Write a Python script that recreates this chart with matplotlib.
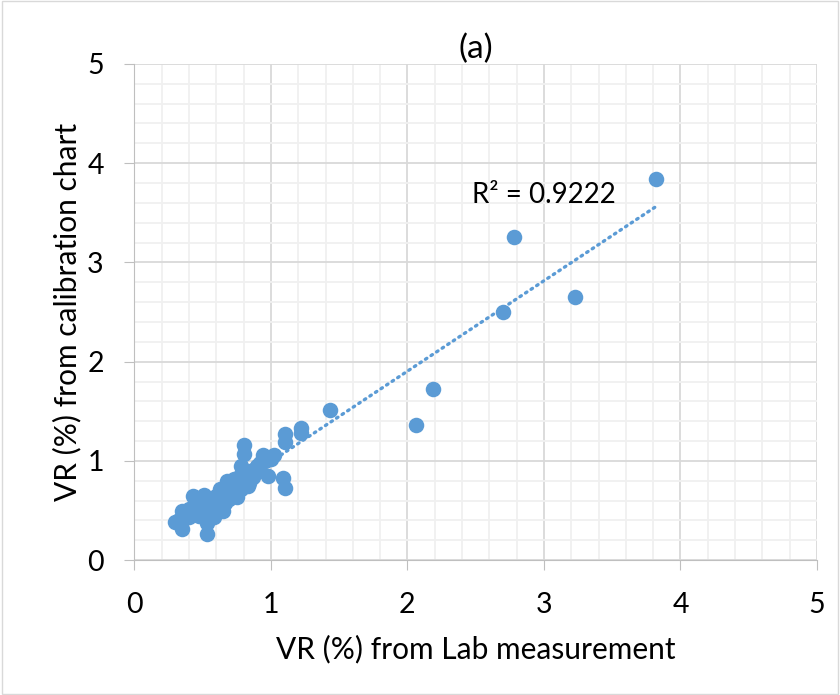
import matplotlib.pyplot as plt
import numpy as np
from matplotlib.ticker import MultipleLocator
from matplotlib.patches import Rectangle

# VR (%) from lab measurement vs VR (%) from calibration chart
lab_vr = [3.82, 2.78, 3.23, 2.70, 2.19, 2.06, 1.43, 1.22, 1.22, 1.10, 1.10,
          1.09, 1.10, 1.02, 1.00, 0.98, 0.94, 0.96, 0.80, 0.80, 0.78, 0.87,
          0.83, 0.75, 0.70, 0.68, 0.65, 0.61, 0.58, 0.53, 0.53, 0.51, 0.46,
          0.43, 0.40, 0.35, 0.30, 0.35, 0.33, 0.38, 0.42, 0.45, 0.48, 0.50,
          0.55, 0.57, 0.60, 0.62, 0.64, 0.66, 0.68, 0.70, 0.72, 0.74, 0.76,
          0.78, 0.82, 0.85, 0.88, 0.90, 0.92, 0.55, 0.60, 0.66, 0.72, 0.77,
          0.40, 0.47, 0.52, 0.63, 0.69, 0.73, 0.84, 0.91]
cal_vr = [3.84, 3.26, 2.65, 2.50, 1.72, 1.36, 1.51, 1.33, 1.28, 1.27, 1.19,
          0.83, 0.73, 1.06, 1.02, 0.85, 1.06, 1.00, 1.16, 1.07, 0.95, 0.84,
          0.75, 0.64, 0.75, 0.80, 0.50, 0.60, 0.44, 0.26, 0.37, 0.66, 0.54,
          0.65, 0.44, 0.50, 0.38, 0.31, 0.40, 0.47, 0.52, 0.48, 0.58, 0.55,
          0.52, 0.60, 0.65, 0.62, 0.70, 0.66, 0.72, 0.68, 0.78, 0.74, 0.80,
          0.72, 0.86, 0.90, 0.92, 0.95, 0.98, 0.62, 0.55, 0.58, 0.70, 0.85,
          0.52, 0.45, 0.58, 0.72, 0.62, 0.82, 0.78, 0.90]
r2_label = "R² = 0.9222"

blue = "#5B9BD5"
plt.rcParams['font.family'] = ['Lato', 'DejaVu Sans']

fig = plt.figure(figsize=(8.4, 6.95), dpi=100)
ax = fig.add_axes([0.16, 0.194, 0.8126, 0.714])

x = np.array(lab_vr)
y = np.array(cal_vr)
ax.scatter(x, y, s=125, color=blue, zorder=3, linewidths=0)

k, b = np.polyfit(x, y, 1)
xs = np.array([x.min(), x.max()])
ax.plot(xs, k * xs + b, color=blue, lw=2.4, linestyle=(0, (0.5, 1.5)),
        dash_capstyle='round', zorder=4)

ax.text(2.47, 3.6, r2_label, fontsize=20, color='black')

ax.set_xlim(0, 5)
ax.set_ylim(0, 5)
ax.xaxis.set_major_locator(MultipleLocator(1))
ax.yaxis.set_major_locator(MultipleLocator(1))
ax.xaxis.set_minor_locator(MultipleLocator(0.2))
ax.yaxis.set_minor_locator(MultipleLocator(0.2))
ax.grid(which='major', color='#D9D9D9', lw=1.3, zorder=0)
ax.grid(which='minor', color='#F0F0F0', lw=1.3, zorder=0)
ax.set_axisbelow(True)
for s in ['top', 'right']:
    ax.spines[s].set_visible(False)
for s in ['left', 'bottom']:
    ax.spines[s].set_color('#BFBFBF')
ax.tick_params(which='major', length=7, color='#BFBFBF', labelsize=20.5)
ax.tick_params(axis='x', pad=16)
ax.tick_params(axis='y', pad=15)
ax.tick_params(which='minor', length=0)

ax.set_title('(a)', fontsize=24, pad=4)
ax.set_xlabel('VR (%) from Lab measurement', fontsize=21.5, labelpad=12)
ax.set_ylabel('VR (%) from calibration chart', fontsize=21.5, labelpad=4)

fig.patches.append(Rectangle((0.002, 0.002), 0.996, 0.996, transform=fig.transFigure,
                             fill=False, edgecolor='#D9D9D9', lw=1))

plt.savefig('out.png', dpi=100)
